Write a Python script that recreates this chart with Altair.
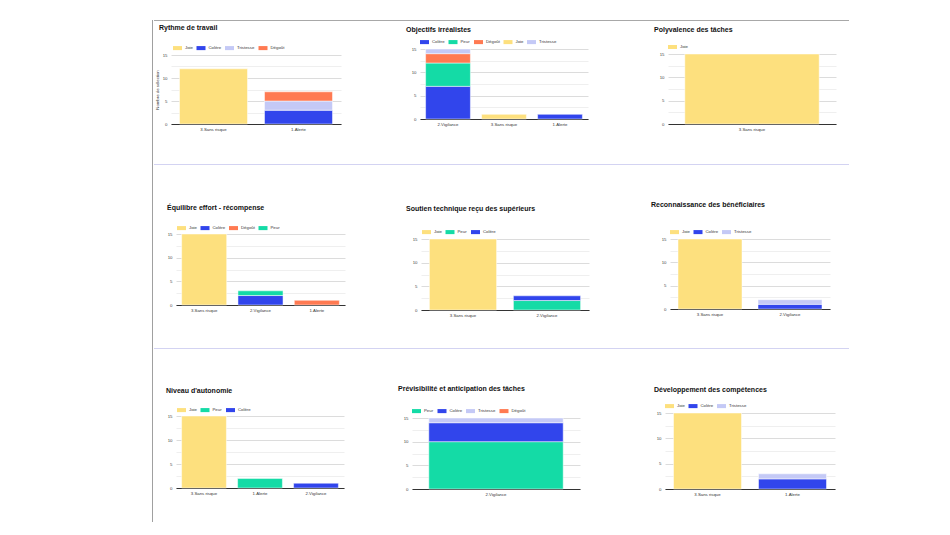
import altair as alt
import pandas as pd

FONT = "Liberation Sans"
COLORS = {"Joie": "#fde07e", "Colère": "#3145ec", "Tristesse": "#c4c9f6",
          "Dégoût": "#ff7a52", "Peur": "#14dba6"}

# ---- data -------------------------------------------------------------
p1_title = "Rythme de travail"
p1_cats = ["3.Sans risque", "1.Alerte"]
p1_series = ["Joie", "Colère", "Tristesse", "Dégoût"]
p1_values = {"Joie": [12, 0], "Colère": [0, 3], "Tristesse": [0, 2], "Dégoût": [0, 2]}

p2_title = "Objectifs irréalistes"
p2_cats = ["2.Vigilance", "3.Sans risque", "1.Alerte"]
p2_series = ["Colère", "Peur", "Dégoût", "Joie", "Tristesse"]
p2_values = {"Colère": [7, 0, 1], "Peur": [5, 0, 0], "Dégoût": [2, 0, 0],
             "Joie": [0, 1, 0], "Tristesse": [1, 0, 0]}

p3_title = "Polyvalence des tâches"
p3_cats = ["3.Sans risque"]
p3_series = ["Joie"]
p3_values = {"Joie": [15]}

p4_title = "Équilibre effort - récompense"
p4_cats = ["3.Sans risque", "2.Vigilance", "1.Alerte"]
p4_series = ["Joie", "Colère", "Dégoût", "Peur"]
p4_values = {"Joie": [15, 0, 0], "Colère": [0, 2, 0], "Dégoût": [0, 0, 1], "Peur": [0, 1, 0]}

p5_title = "Soutien technique reçu des supérieurs"
p5_cats = ["3.Sans risque", "2.Vigilance"]
p5_series = ["Joie", "Peur", "Colère"]
p5_values = {"Joie": [15, 0], "Peur": [0, 2], "Colère": [0, 1]}

p6_title = "Reconnaissance des bénéficiaires"
p6_cats = ["3.Sans risque", "2.Vigilance"]
p6_series = ["Joie", "Colère", "Tristesse"]
p6_values = {"Joie": [15, 0], "Colère": [0, 1], "Tristesse": [0, 1]}

p7_title = "Niveau d'autonomie"
p7_cats = ["3.Sans risque", "1.Alerte", "2.Vigilance"]
p7_series = ["Joie", "Peur", "Colère"]
p7_values = {"Joie": [15, 0, 0], "Peur": [0, 2, 0], "Colère": [0, 0, 1]}

p8_title = "Prévisibilité et anticipation des tâches"
p8_cats = ["2.Vigilance"]
p8_series = ["Peur", "Colère", "Tristesse", "Dégoût"]
p8_values = {"Peur": [10], "Colère": [4], "Tristesse": [1], "Dégoût": [0]}

p9_title = "Développement des compétences"
p9_cats = ["3.Sans risque", "1.Alerte"]
p9_series = ["Joie", "Colère", "Tristesse"]
p9_values = {"Joie": [15, 0], "Colère": [0, 2], "Tristesse": [0, 1]}

Y_TICKS = [0, 2.5, 5, 7.5, 10, 12.5, 15]
Y_TITLE = "Nombre de sélection"

# ---- layout constants (pixels) ----------------------------------------
TITLE_HALF = 5      # bounds top -> visual centre of a title
TITLE_TO_LEG = 7    # extra between title centre and legend centre beyond offset
LEG_C = 3.5         # legend origin -> entry centre
X0 = 153            # x where the rows start

SYMBOL = "M-1,-0.45H1V0.45H-1Z"


def indep(c):
    return c.resolve_scale(color="independent", x="independent", y="independent").resolve_legend(
        color="independent")


def panel(title, cats, series, values, lay, y_title=None):
    rows = []
    for si, s in enumerate(series):
        for ci, c in enumerate(cats):
            v = values[s][ci]
            if v > 0:
                rows.append({"cat": c, "serie": s, "val": v, "ord": si})
    df = pd.DataFrame(rows)
    yax = dict(values=Y_TICKS, labelExpr="datum.value % 5 === 0 ? datum.label : ''",
               ticks=False, domain=False, labelFontSize=4.3, labelColor="#444",
               labelFont=FONT, labelPadding=4,
               gridColor={"condition": {"test": "datum.value % 5 === 0", "value": "#dcdcdc"},
                          "value": "#efefef"})
    if y_title:
        yaxis = alt.Axis(title=y_title, titleFontSize=4.3, titleFontWeight="normal",
                         titleColor="#333", titleFont=FONT, titlePadding=3, **yax)
    else:
        yaxis = alt.Axis(title=None, **yax)
    offset = (lay["lc"] - lay["tc"]) - TITLE_TO_LEG
    legend_y = -(lay["pt"] - lay["lc"]) - LEG_C
    return alt.Chart(df).mark_bar(stroke="white", strokeWidth=0.5).encode(
        x=alt.X("cat:N", sort=cats,
                scale=alt.Scale(domain=cats, paddingInner=0.2, paddingOuter=0.1),
                axis=alt.Axis(title=None, labelAngle=0, labelFontSize=4.3, labelColor="#333",
                              labelFont=FONT, labelPadding=3, ticks=False,
                              domainColor="#333", domainWidth=1)),
        y=alt.Y("val:Q", stack="zero", scale=alt.Scale(domain=[0, 15], nice=False),
                axis=yaxis),
        color=alt.Color("serie:N",
                        scale=alt.Scale(domain=series, range=[COLORS[s] for s in series]),
                        legend=alt.Legend(title=None, orient="none", legendX=lay["lx"],
                                          legendY=legend_y,
                                          direction="horizontal", columns=len(series),
                                          symbolType=SYMBOL, symbolSize=81,
                                          symbolStrokeWidth=0, symbolOpacity=1,
                                          labelFontSize=4.3, labelFont=FONT,
                                          labelColor="#333", labelOffset=3,
                                          columnPadding=3.5, padding=0)),
        order=alt.Order("ord:Q", sort="ascending"),
    ).properties(
        width=lay["w"], height=lay["h"],
        title=alt.TitleParams(text=title, anchor="start", frame="group", dx=lay["dx"],
                              offset=offset, fontSize=7, fontWeight="bold", font=FONT,
                              color="#111"),
    )


def spacer(w, h):
    return alt.Chart(alt.Data(values=[{"a": 0}])).mark_rule(opacity=0).encode(
        x=alt.value(0)).properties(width=max(1, w), height=max(1, h))


def hline(w, h, y, color):
    return alt.Chart(alt.Data(values=[{"a": 0}])).mark_rule(color=color, strokeWidth=1).encode(
        x=alt.value(0), x2=alt.value(w), y=alt.value(y)).properties(width=w, height=h)


def left_ext(lay, has_ytitle):
    e = max(-lay["dx"], 4 + 5)
    if has_ytitle:
        e = max(e, 4 + 5 + 3 + 4.5)
    return e


def build_row(specs, row_top, row_h):
    items = []
    prev_right = X0
    for (args, lay, yt) in specs:
        ext = left_ext(lay, yt is not None)
        items.append(spacer(round(lay["x"] - ext - prev_right), row_h))
        d = lay["tc"] - TITLE_HALF - row_top
        items.append(indep(alt.vconcat(spacer(1, d), panel(*args, lay, y_title=yt), spacing=0)))
        prev_right = lay["x"] + lay["w"]
    return indep(alt.hconcat(*items, spacing=0))


# x: plot left, w/h: plot size, dx: title shift, lx: legend x,
# tc/lc/pt: title centre, legend centre and plot top (page y)
L1 = dict(x=170, w=170, h=69, dx=-12, lx=2, tc=27, lc=47, pt=55)
L2 = dict(x=419, w=168, h=70, dx=-14, lx=0, tc=29, lc=41, pt=49)
L3 = dict(x=667, w=168, h=70, dx=-14, lx=0, tc=29, lc=46, pt=54)
L4 = dict(x=175, w=169, h=71, dx=-9, lx=1, tc=207, lc=227, pt=234)
L5 = dict(x=420, w=168, h=71, dx=-15, lx=1, tc=208, lc=231, pt=239)
L6 = dict(x=669, w=160, h=70, dx=-19, lx=0, tc=204, lc=231, pt=239)
L7 = dict(x=175, w=168, h=72, dx=-10, lx=1, tc=390, lc=409, pt=416)
L8 = dict(x=411, w=168, h=71, dx=-14, lx=0, tc=388, lc=410, pt=418)
L9 = dict(x=664, w=170, h=76, dx=-11, lx=0, tc=389, lc=405, pt=413)

rows_spec = [
    [((p1_title, p1_cats, p1_series, p1_values), L1, Y_TITLE),
     ((p2_title, p2_cats, p2_series, p2_values), L2, None),
     ((p3_title, p3_cats, p3_series, p3_values), L3, None)],
    [((p4_title, p4_cats, p4_series, p4_values), L4, None),
     ((p5_title, p5_cats, p5_series, p5_values), L5, None),
     ((p6_title, p6_cats, p6_series, p6_values), L6, None)],
    [((p7_title, p7_cats, p7_series, p7_values), L7, None),
     ((p8_title, p8_cats, p8_series, p8_values), L8, None),
     ((p9_title, p9_cats, p9_series, p9_values), L9, None)],
]

Y_TOP = 19
ROW_TOPS = [20, 198, 380]
ROW_ENDS = [154, 330, 500]
SEP_Y = [163.5, 347.5]
FRAME_W = 695

column = [hline(FRAME_W, ROW_TOPS[0] - Y_TOP, 0.5, "#a8a8a8")]
for i in range(3):
    column.append(build_row(rows_spec[i], ROW_TOPS[i], ROW_ENDS[i] - ROW_TOPS[i]))
    if i < 2:
        column.append(hline(FRAME_W, ROW_TOPS[i + 1] - ROW_ENDS[i],
                            SEP_Y[i] - ROW_ENDS[i], "#d3d3f2"))

grid = indep(alt.vconcat(*column, spacing=0))
vline = alt.Chart(alt.Data(values=[{"a": 0}])).mark_rule(color="#a0a0a0", strokeWidth=1).encode(
    x=alt.value(0.5), y=alt.value(0), y2=alt.value(502)).properties(width=1, height=502)

chart = indep(alt.hconcat(vline, grid, spacing=0)).properties(
    padding={"left": 144, "top": 11, "right": 5, "bottom": 0},
    background="white",
).configure_view(strokeWidth=0)

chart.save("out.html", embed_options={"renderer": "svg", "actions": False})
